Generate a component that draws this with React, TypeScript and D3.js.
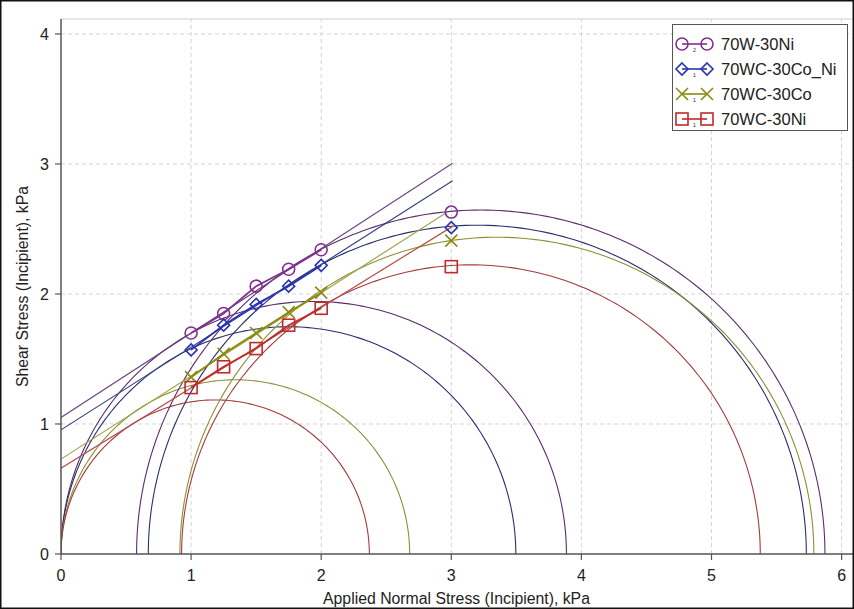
import * as d3 from "d3";

// series names (legend order)
const seriesNames = ["70W-30Ni", "70WC-30Co_Ni", "70WC-30Co", "70WC-30Ni"];
const legendDigits = ["2", "1", "1", "1"];

// applied normal stress at the measured points
const normalStress = [1, 1.25, 1.5, 1.75, 2, 3];

// shear stress
const w30NiShear = [1.7, 1.85, 2.06, 2.19, 2.34, 2.63];
const wc30CoNiShear = [1.57, 1.76, 1.92, 2.06, 2.22, 2.51];
const wc30CoShear = [1.36, 1.54, 1.7, 1.86, 2.01, 2.41];
const wc30NiShear = [1.28, 1.44, 1.58, 1.76, 1.89, 2.21];

// Mohr circles, [sigma3, sigma1]
const smallCircles = [
  [0, 3.885],
  [0, 3.496],
  [0, 2.68],
  [0, 2.37],
];
const largeCircles = [
  [0.581, 5.872],
  [0.671, 5.729],
  [0.914, 5.787],
  [0.927, 5.375],
];

// failure envelopes: intercept at 0 and end point
const envIntercept = [1.05, 0.955, 0.73, 0.66];
const envEndX = [3.01, 3.01, 2.97, 3.01];
const envEndY = [3.005, 2.87, 2.63, 2.52];

const xTicks = [0, 1, 2, 3, 4, 5, 6];
const yTicks = [0, 1, 2, 3, 4];

const shearData = [w30NiShear, wc30CoNiShear, wc30CoShear, wc30NiShear];
const markerColors = ["#82308f", "#2a33b4", "#8a8a12", "#c22a2a"];
const arcColors = ["#5a2d6c", "#2a306e", "#8f8f36", "#a33c3c"];
const envColors = ["#6e477e", "#3a4280", "#a3a34a", "#b94b4b"];
const markerTypes = ["circle", "diamond", "x", "square"];

const W = 854;
const H = 609;
const margin = { top: 19, right: 2, bottom: 55, left: 61 };

const Marker = ({ type, cx, cy, color }: { type: string; cx: number; cy: number; color: string }) => {
  const s = 6;
  if (type === "circle")
    return <circle cx={cx} cy={cy} r={s} fill="white" fillOpacity={0} stroke={color} strokeWidth={1.6} />;
  if (type === "diamond")
    return (
      <path
        d={`M${cx},${cy - s}L${cx + s},${cy}L${cx},${cy + s}L${cx - s},${cy}Z`}
        fill="none"
        stroke={color}
        strokeWidth={1.6}
      />
    );
  if (type === "square")
    return <rect x={cx - s} y={cy - s} width={2 * s} height={2 * s} fill="none" stroke={color} strokeWidth={1.6} />;
  return (
    <path
      d={`M${cx - s},${cy - s}L${cx + s},${cy + s}M${cx - s},${cy + s}L${cx + s},${cy - s}`}
      fill="none"
      stroke={color}
      strokeWidth={1.6}
    />
  );
};

export default function App() {
  const x = d3.scaleLinear().domain([0, 6.08]).range([margin.left, W - margin.right]);
  const y = d3.scaleLinear().domain([0, 4.115]).range([H - margin.bottom, margin.top]);

  const angles = d3.range(0, 181).map((a) => (a * Math.PI) / 180);
  const arc = (c: number[]) => {
    const center = (c[0] + c[1]) / 2;
    const r = (c[1] - c[0]) / 2;
    return d3
      .line<number>()
      .x((t) => x(center + r * Math.cos(t)))
      .y((t) => y(r * Math.sin(t)))(angles);
  };

  const seg = d3
    .line<[number, number]>()
    .x((d) => x(d[0]))
    .y((d) => y(d[1]));

  const font = "'Liberation Sans', Arial, sans-serif";

  return (
    <svg
      width={W}
      height={H}
      style={{ position: "absolute", left: 0, top: 0, background: "white", fontFamily: font }}
    >
      <defs>
        <clipPath id="plot">
          <rect x={margin.left} y={margin.top} width={W - margin.left - margin.right} height={H - margin.top - margin.bottom} />
        </clipPath>
      </defs>

      {/* grid */}
      {xTicks.slice(1).map((t) => (
        <line key={"gx" + t} x1={x(t)} x2={x(t)} y1={y(0)} y2={margin.top} stroke="#d4d4d4" strokeDasharray="4,3" />
      ))}
      {yTicks.slice(1).map((t) => (
        <line key={"gy" + t} x1={x(0)} x2={W - margin.right} y1={y(t)} y2={y(t)} stroke="#d4d4d4" strokeDasharray="4,3" />
      ))}
      <line x1={x(0)} x2={W - margin.right} y1={margin.top} y2={margin.top} stroke="#cfcfcf" />

      <g clipPath="url(#plot)">
        {smallCircles.map((c, i) => (
          <path key={"sc" + i} d={arc(c) || ""} fill="none" stroke={arcColors[i]} strokeWidth={1.1} />
        ))}
        {largeCircles.map((c, i) => (
          <path key={"lc" + i} d={arc(c) || ""} fill="none" stroke={arcColors[i]} strokeWidth={1.1} />
        ))}
        {envIntercept.map((b, i) => (
          <path
            key={"env" + i}
            d={seg([[0, b], [envEndX[i], envEndY[i]]]) || ""}
            fill="none"
            stroke={envColors[i]}
            strokeWidth={1.2}
          />
        ))}
        {shearData.map((vals, i) => (
          <path
            key={"ln" + i}
            d={seg(normalStress.slice(0, 5).map((s, j) => [s, vals[j]] as [number, number])) || ""}
            fill="none"
            stroke={markerColors[i]}
            strokeWidth={1.8}
          />
        ))}
        {shearData.map((vals, i) =>
          vals.map((v, j) => (
            <Marker key={"m" + i + "-" + j} type={markerTypes[i]} cx={x(normalStress[j])} cy={y(v)} color={markerColors[i]} />
          ))
        )}
      </g>

      {/* axes */}
      <line x1={x(0)} x2={W} y1={y(0)} y2={y(0)} stroke="#555" strokeWidth={1.5} />
      <line x1={x(0)} x2={x(0)} y1={y(0)} y2={margin.top} stroke="#555" strokeWidth={1.5} />
      {xTicks.map((t) => (
        <g key={"xt" + t}>
          <line x1={x(t)} x2={x(t)} y1={y(0)} y2={y(0) + 6} stroke="#555" strokeWidth={1.2} />
          <text x={x(t)} y={y(0) + 27} textAnchor="middle" fontSize={16} fill="#222">
            {t}
          </text>
        </g>
      ))}
      {yTicks.map((t) => (
        <g key={"yt" + t}>
          <line x1={x(0) - 6} x2={x(0)} y1={y(t)} y2={y(t)} stroke="#555" strokeWidth={1.2} />
          <text x={x(0) - 12} y={y(t)} dy="0.35em" textAnchor="end" fontSize={16} fill="#222">
            {t}
          </text>
        </g>
      ))}
      <text x={(x(0) + W - margin.right) / 2} y={H - 5} textAnchor="middle" fontSize={15.8} fill="#222">
        Applied Normal Stress (Incipient), kPa
      </text>
      <text
        transform={`translate(28,${(margin.top + H - margin.bottom) / 2}) rotate(-90)`}
        textAnchor="middle"
        fontSize={15.8}
        fill="#222"
      >
        Shear Stress (Incipient), kPa
      </text>

      {/* legend */}
      <g>
        <rect x={672.5} y={24.5} width={175} height={106} fill="white" stroke="#555" />
        {seriesNames.map((name, i) => {
          const ly = 44 + i * 25;
          return (
            <g key={"lg" + i}>
              <line x1={682} x2={707} y1={ly} y2={ly} stroke={markerColors[i]} strokeWidth={1.6} />
              <Marker type={markerTypes[i]} cx={682} cy={ly} color={markerColors[i]} />
              <Marker type={markerTypes[i]} cx={707} cy={ly} color={markerColors[i]} />
              <text x={694.5} y={ly + 8} textAnchor="middle" fontSize={6} fill="#444">
                {legendDigits[i]}
              </text>
              <text x={721} y={ly} dy="0.35em" fontSize={16.5} fill="#222">
                {name}
              </text>
            </g>
          );
        })}
      </g>

      {/* picture frame */}
      <rect x={0.75} y={0.75} width={W - 1.5} height={H - 1.5} fill="none" stroke="#111" strokeWidth={1.5} />
    </svg>
  );
}
